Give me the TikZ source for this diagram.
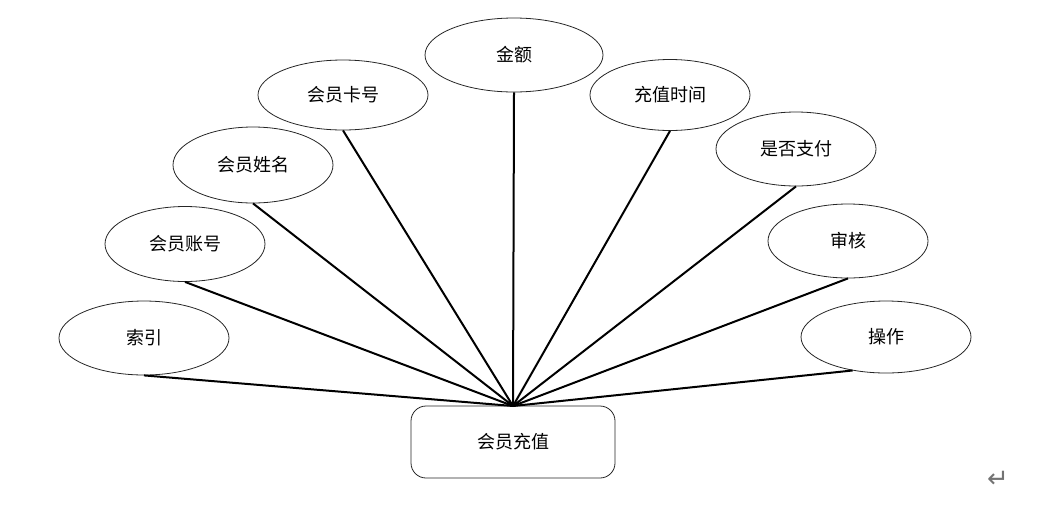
\documentclass[tikz,border=0pt]{standalone}
\usepackage{fontspec}
\setmainfont{Noto Sans CJK SC}
\usetikzlibrary{shapes.geometric}
\begin{document}
\begin{tikzpicture}[x=1pt,y=-1pt,
  attr/.style={draw=black!85,line width=0.8pt,ellipse,inner sep=0pt,font=\fontsize{18}{20}\selectfont},
  ent/.style={draw=black!85,line width=0.8pt,rounded corners=15pt,inner sep=0pt,minimum width=204pt,minimum height=72pt,font=\fontsize{18}{20}\selectfont},
  link/.style={line width=2pt,black}]
\useasboundingbox (0,0) rectangle (1043,504);
\node[attr,minimum width=170pt,minimum height=74pt] (a1) at (144,338) {索引};
\node[attr,minimum width=160pt,minimum height=75pt] (a2) at (185,244) {会员账号};
\node[attr,minimum width=160pt,minimum height=76pt] (a3) at (253,165) {会员姓名};
\node[attr,minimum width=170pt,minimum height=70pt] (a4) at (343,95) {会员卡号};
\node[attr,minimum width=178pt,minimum height=74pt] (a5) at (514,55) {金额};
\node[attr,minimum width=160pt,minimum height=71pt] (a6) at (670,95) {充值时间};
\node[attr,minimum width=160pt,minimum height=74pt] (a7) at (796,149) {是否支付};
\node[attr,minimum width=160pt,minimum height=74pt] (a8) at (848,241) {审核};
\node[attr,minimum width=170pt,minimum height=72pt] (a9) at (886,337) {操作};
\node[ent] (e) at (513,442) {会员充值};
\coordinate (c) at (513,406);
\foreach \n in {a1,a2,a3,a4,a5,a6,a7,a8} \draw[link] (\n.south) -- (c);
\draw[link] (a9.225) -- (c);
\node[font=\fontsize{26}{28}\selectfont\fontspec{DejaVu Sans},text=black!55,inner sep=0pt] (ret) at (998,479) {↵};
\end{tikzpicture}
\end{document}
